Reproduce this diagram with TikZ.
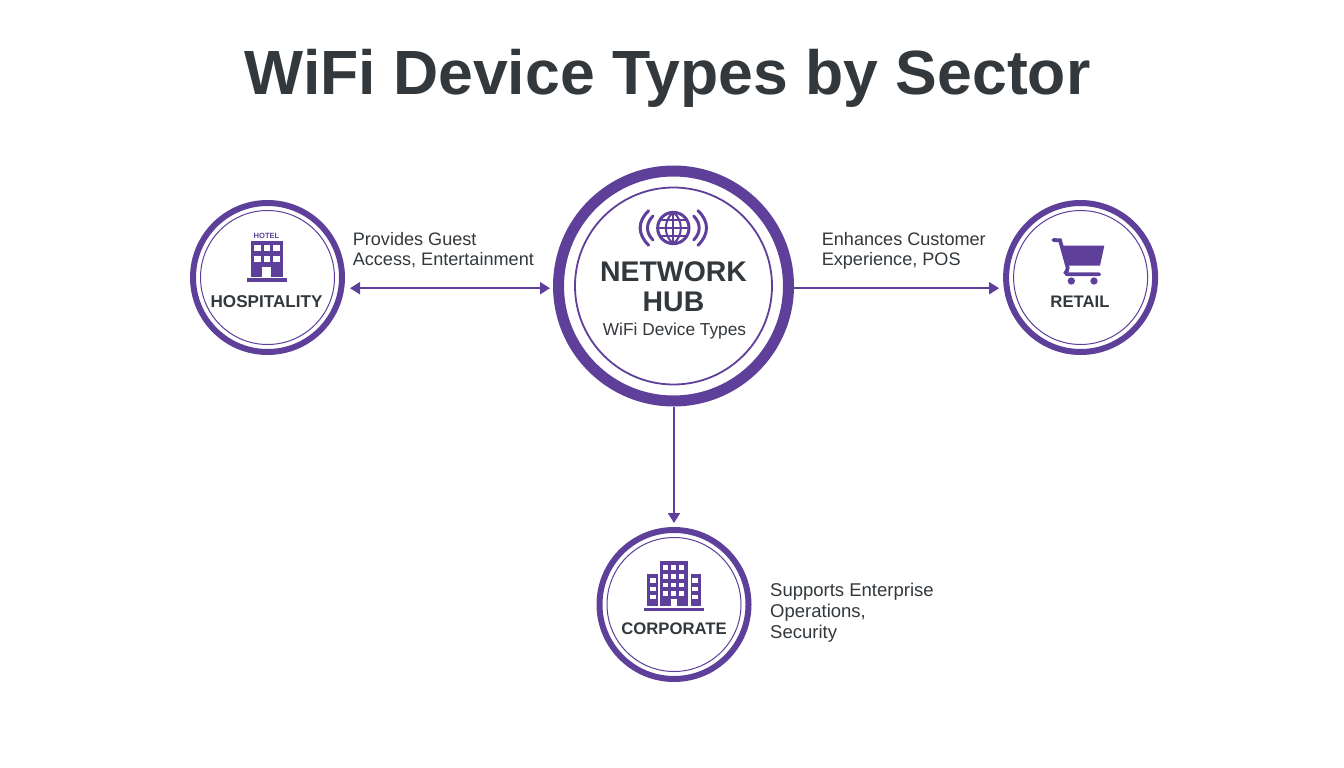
\documentclass[tikz,border=0pt]{standalone}
\usepackage{fontspec}
\setmainfont{Liberation Sans}
\usetikzlibrary{arrows.meta}
\definecolor{hubpurple}{HTML}{5E3F99}
\definecolor{inkdark}{HTML}{33383C}
\newcommand{\fsz}[1]{\fontsize{#1}{#1}\selectfont}
\tikzset{
  ringsector/.style={circle,draw=hubpurple,line width=6pt,minimum size=149pt,inner sep=0pt,fill=white},
  ringhub/.style={circle,draw=hubpurple,line width=11pt,minimum size=230pt,inner sep=0pt,fill=white},
  ringinner/.style={circle,draw=hubpurple,line width=1pt,minimum size=134pt,inner sep=0pt},
  ringhubinner/.style={circle,draw=hubpurple,line width=1.8pt,minimum size=197pt,inner sep=0pt},
  sectorname/.style={text=inkdark,font=\bfseries\fsz{17.1},anchor=base,inner sep=0pt},
  sectorsmall/.style={text=inkdark,font=\bfseries\fsz{16.7},anchor=base,inner sep=0pt},
  hubname/.style={text=inkdark,font=\bfseries\fsz{28.4},anchor=base,inner sep=0pt},
  flowlabel/.style={text=inkdark,font=\fsz{18.1},anchor=base west,align=left,inner sep=0pt},
  sidelabel/.style={text=inkdark,font=\fsz{18.5},anchor=base west,align=left,inner sep=0pt},
  flow/.style={draw=hubpurple,line width=2pt,-{Triangle[length=10pt,width=12pt]}},
  flowboth/.style={draw=hubpurple,line width=2pt,{Triangle[length=10pt,width=12pt]}-{Triangle[length=10pt,width=12pt]}},
  iconfill/.style={fill=hubpurple,draw=none},
  iconhole/.style={fill=white,draw=none},
  iconline/.style={draw=hubpurple,line width=3pt,line cap=round,fill=none},
}
\begin{document}
\begin{tikzpicture}[x=1pt,y=-1pt]
\useasboundingbox (0,0) rectangle (1344,768);
\fill[white] (0,0) rectangle (1344,768);
\node[text=inkdark,font=\bfseries\fsz{62.5},inner sep=0pt,anchor=base] (title) at (667.5,95) {WiFi Device Types by Sector};

% rings
\node[ringhub] (hub) at (673.5,286) {};
\node[ringhubinner] (hubin) at (673.5,286) {};
\node[ringsector] (hosp) at (267.5,277.5) {};
\node[ringinner] (hospin) at (267.5,277.5) {};
\node[ringsector] (retail) at (1080.6,277.5) {};
\node[ringinner] (retailin) at (1080.6,277.5) {};
\node[ringsector] (corp) at (674,604.5) {};
\node[ringinner] (corpin) at (674,604.5) {};

% connectors
\draw[flowboth] ([xshift=5pt,yshift=-10.7pt]hosp.east) -- ([xshift=-3pt,yshift=-2.2pt]hub.west);
\draw[flow] ([yshift=-2.2pt]hub.east) -- ([xshift=-4pt,yshift=-10.7pt]retail.west);
\draw[flow] ([xshift=0.5pt]hub.south) -- ([yshift=4pt]corp.north);

% hub text
\node[hubname] (hubt1) at (673.5,281.7) {NETWORK};
\node[hubname] (hubt2) at (673.5,311.7) {HUB};
\node[text=inkdark,font=\fsz{17.3},inner sep=0pt,anchor=base] (hubt3) at (674.5,335.7) {WiFi Device Types};

% globe icon
\begin{scope}[shift={(550,160)},x=0.33333pt,y=-0.33333pt]
\draw[iconline] (370,204) circle (47);
\draw[iconline,line width=2pt] (370,157) .. controls (340,180) and (340,228) .. (370,251);
\draw[iconline,line width=2pt] (370,157) .. controls (400,180) and (400,228) .. (370,251);
\draw[iconline,line width=2pt] (370,157) -- (370,251);
\draw[iconline,line width=2pt] (323,204) -- (417,204);
\draw[iconline,line width=2pt] (332,180) -- (408,180);
\draw[iconline,line width=2pt] (332,228) -- (408,228);
\draw[iconline] (309,168) .. controls (287,190) and (287,218) .. (309,240);
\draw[iconline] (431,168) .. controls (453,190) and (453,218) .. (431,240);
\draw[iconline] (296,152) .. controls (262,185) and (262,222) .. (296,256);
\draw[iconline] (444,152) .. controls (478,185) and (478,222) .. (444,256);
\end{scope}

% hotel icon
\node[text=hubpurple,font=\bfseries\fsz{7.6},inner sep=0pt] (hoteltag) at (266.5,236) {HOTEL};
\fill[iconfill] (251,240.7) rectangle (282.7,277);
\fill[iconfill] (246.7,278.4) rectangle (287.3,282);
\foreach \cx in {254.3,264,273.3}{
  \foreach \cy in {245,255.7}{
    \fill[iconhole] (\cx,\cy) rectangle ++(6.2,6.2);
  }
}
\fill[iconhole] (262.3,267.3) rectangle (271,277);
\node[sectorname] (hospt) at (266.5,307.3) {HOSPITALITY};

% cart icon
\begin{scope}[shift={(1000,195)},x=0.33333pt,y=-0.33333pt]
\fill[iconfill] (188,152) -- (313,152) -- (300,212) -- (204,212) -- cycle;
\draw[iconline,line width=3.8pt] (160,135) -- (180,136) -- (203,218) .. controls (206,228) and (196,228) .. (197,233) .. controls (198,238) and (203,238) .. (208,238) -- (298,238);
\fill[iconfill] (214,258) circle (11);
\fill[iconfill] (282,258) circle (11);
\end{scope}
\node[sectorsmall] (retailt) at (1080,307.7) {RETAIL};

% corporate icon
\begin{scope}[shift={(590,500)},x=0.33333pt,y=-0.33333pt]
\fill[iconfill] (210,183) rectangle (293,318);
\fill[iconfill] (172,223) rectangle (203,318);
\fill[iconfill] (302,223) rectangle (333,318);
\fill[iconfill] (162,324) rectangle (342,333);
\foreach \cx in {220,244,268}{
  \foreach \cy in {195,222,248,274}{
    \fill[iconhole] (\cx,\cy) rectangle ++(15,14);
  }
}
\fill[iconhole] (243,298) rectangle (262,318);
\foreach \cx in {180,307}{
  \foreach \cy in {235,260,285}{
    \fill[iconhole] (\cx,\cy) rectangle ++(17,13);
  }
}
\end{scope}
\node[sectorsmall] (corpt) at (674,634.3) {CORPORATE};

% labels
\node[flowlabel] (lab1a) at (352.6,245.7) {Provides Guest};
\node[flowlabel] (lab1b) at (352.6,265.7) {Access, Entertainment};
\node[flowlabel] (lab2a) at (821.6,245.7) {Enhances Customer};
\node[flowlabel] (lab2b) at (821.6,265.7) {Experience, POS};
\node[sidelabel] (lab3a) at (770,596.7) {Supports Enterprise};
\node[sidelabel] (lab3b) at (770,617.7) {Operations,};
\node[sidelabel] (lab3c) at (770,638.3) {Security};
\end{tikzpicture}
\end{document}
